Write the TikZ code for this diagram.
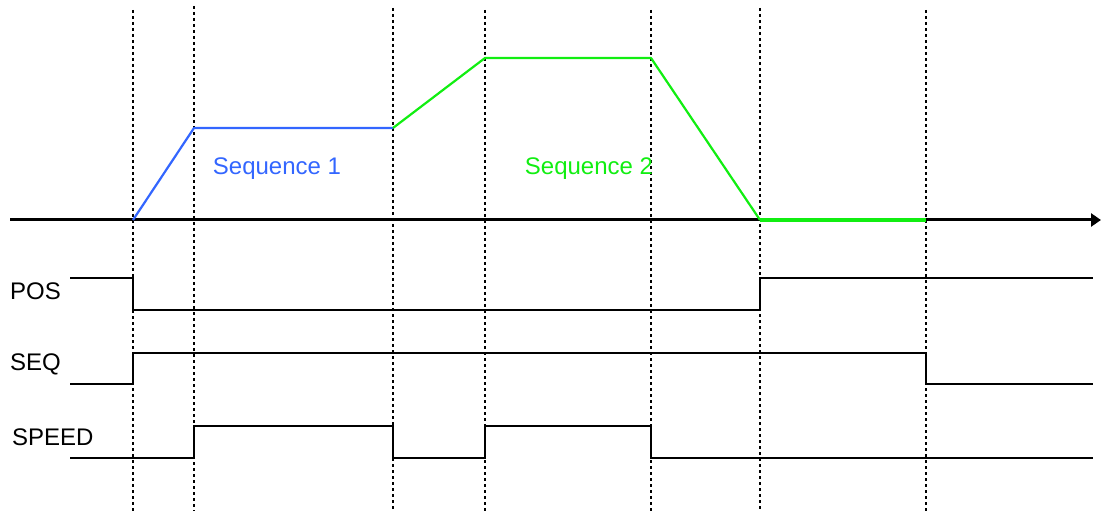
\documentclass[tikz,border=0pt]{standalone}
\usepackage{fontspec}
\setmainfont{Liberation Sans}
\usetikzlibrary{arrows.meta}
\definecolor{seqBlue}{HTML}{3366FF}
\definecolor{seqGreen}{HTML}{11EE11}

\begin{document}
\begin{tikzpicture}[x=1pt,y=-1pt,every node/.style={font=\fontsize{24}{28}\selectfont,inner sep=0pt}]
  \tikzstyle{grid}=[black,line width=1.6pt,dash pattern=on 3pt off 3pt]
  \tikzstyle{signal}=[black,line width=1.9pt]
  \tikzstyle{ramp}=[line width=2.2pt,line join=round]
  \tikzstyle{lbl}=[anchor=west]
  \useasboundingbox (0,0) rectangle (1101,513);
  % time marks
  \foreach \x/\y in {133/10,194/6,393/8,485/10,651/10,760/8,926/10}
    \draw[grid] (\x,\y) -- (\x,511);
  \draw[black,line width=3pt,-{Triangle[length=10pt,width=13pt]}] (10,220) -- (1101,220);
  % speed profile
  \coordinate (p0) at (133,220);
  \coordinate (p1) at (194,128);
  \coordinate (p2) at (393,128);
  \coordinate (p3) at (485,58);
  \coordinate (p4) at (651,58);
  \coordinate (p5) at (760,220);
  \coordinate (p6) at (926,220);
  \draw[ramp,seqBlue] (p0) -- (p1) -- (p2);
  \draw[ramp,seqGreen] (p2) -- (p3) -- (p4) -- (p5);
  \draw[seqGreen,line width=3.2pt] (p5) -- (p6);
  \node[text=seqBlue] (s1) at (277,169) {Sequence 1};
  \node[text=seqGreen] (s2) at (589,169) {Sequence 2};
  % signals
  \node[lbl] (pos) at (10,291) {POS};
  \node[lbl] (seq) at (10,364) {SEQ};
  \node[lbl] (speed) at (12,437) {SPEED};
  \draw[signal] (70,278) -- (133,278) -- (133,310) -- (760,310) -- (760,278) -- (1093,278);
  \draw[signal] (70,384) -- (133,384) -- (133,353) -- (926,353) -- (926,384) -- (1093,384);
  \draw[signal] (70,458) -- (194,458) -- (194,426) -- (393,426) -- (393,458)
    -- (485,458) -- (485,426) -- (651,426) -- (651,458) -- (1093,458);
\end{tikzpicture}
\end{document}
